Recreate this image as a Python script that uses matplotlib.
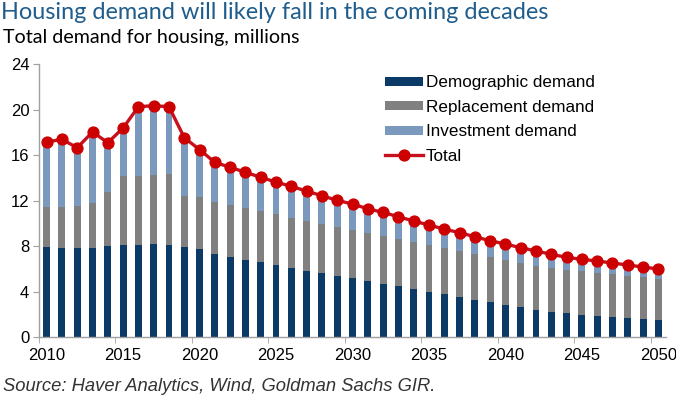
import numpy as np
import matplotlib
matplotlib.use('Agg')
import matplotlib.pyplot as plt
from matplotlib.ticker import MultipleLocator

# Data (millions of housing units)
years = list(range(2010, 2051))
demographic = [7.95, 7.81, 7.81, 7.87, 7.99, 8.08, 8.14, 8.22, 8.14, 7.96,
               7.76, 7.29, 7.08, 6.81, 6.58, 6.35, 6.11, 5.85, 5.65, 5.41,
               5.18, 4.94, 4.71, 4.50, 4.27, 4.00, 3.77, 3.54, 3.30, 3.10,
               2.84, 2.63, 2.43, 2.19, 2.11, 1.96, 1.87, 1.81, 1.69, 1.61, 1.49]
replacement = [3.50, 3.66, 3.75, 3.95, 4.74, 6.05, 6.05, 6.06, 6.20, 4.48,
               4.56, 4.56, 4.50, 4.51, 4.48, 4.45, 4.39, 4.39, 4.32, 4.27,
               4.27, 4.24, 4.21, 4.16, 4.12, 4.13, 4.10, 4.07, 4.04, 3.98,
               3.97, 3.92, 3.86, 3.89, 3.83, 3.86, 3.80, 3.75, 3.72, 3.68, 3.65]
investment = [5.70, 5.91, 5.09, 6.21, 4.36, 4.25, 6.06, 6.06, 5.91, 5.09,
              4.16, 3.51, 3.35, 3.17, 2.99, 2.83, 2.75, 2.60, 2.46, 2.35,
              2.25, 2.11, 2.05, 1.93, 1.82, 1.73, 1.63, 1.58, 1.49, 1.40,
              1.38, 1.32, 1.29, 1.21, 1.08, 1.03, 1.03, 0.96, 0.94, 0.88, 0.86]
total = [17.15, 17.38, 16.65, 18.03, 17.09, 18.38, 20.25, 20.34, 20.25, 17.53,
         16.48, 15.36, 14.93, 14.49, 14.05, 13.63, 13.25, 12.84, 12.43, 12.03,
         11.70, 11.29, 10.97, 10.59, 10.21, 9.86, 9.50, 9.19, 8.83, 8.48,
         8.19, 7.87, 7.58, 7.29, 7.02, 6.85, 6.70, 6.52, 6.35, 6.17, 6.00]

c_demo = '#0b3a66'
c_repl = '#808080'
c_inv = '#7b98bd'
c_total = '#c8101e'

fig = plt.figure(figsize=(6.76, 3.98), dpi=100)
ax = fig.add_axes([39 / 676, 1 - 337.3 / 398, (666 - 39) / 676, (337.3 - 64) / 398])

x = np.array(years)
demo = np.array(demographic)
repl = np.array(replacement)
inv = np.array(investment)
w = 0.45
b1 = ax.bar(x, demo, width=w, color=c_demo, label='Demographic demand')
b2 = ax.bar(x, repl, width=w, bottom=demo, color=c_repl, label='Replacement demand')
b3 = ax.bar(x, inv, width=w, bottom=demo + repl, color=c_inv, label='Investment demand')
ln, = ax.plot(x, total, color=c_total, lw=2.4, marker='o', ms=7.8,
              markerfacecolor='#cc0000', markeredgecolor='#cc0000', label='Total', zorder=5)

ax.set_xlim(2009.5, 2050.5)
ax.set_ylim(0, 24)
ax.yaxis.set_major_locator(MultipleLocator(4))
ax.set_xticks(range(2010, 2051, 5))
ax.set_xticks(np.arange(2009.5, 2050, 5), minor=True)
ax.tick_params(axis='x', which='major', length=0, pad=8)
ax.tick_params(axis='x', which='minor', length=4, color='#a0a0a0')
ax.tick_params(axis='y', length=4, color='#a0a0a0', pad=3)
for lab in ax.get_xticklabels() + ax.get_yticklabels():
    lab.set_fontfamily('Liberation Sans')
    lab.set_fontsize(12)

for s in ['top', 'right']:
    ax.spines[s].set_visible(False)
for s in ['left', 'bottom']:
    ax.spines[s].set_color('#a0a0a0')
    ax.spines[s].set_linewidth(1)

ax.legend(handles=[b1, b2, b3, ln], loc='upper left',
          bbox_to_anchor=(385 / 676, 1 - 75.5 / 398),
          bbox_transform=fig.transFigure, frameon=False, borderpad=0, borderaxespad=0,
          handlelength=2.2, handleheight=0.45, handletextpad=0.2, labelspacing=0.55,
          prop={'family': 'Liberation Sans', 'size': 12.3})

fig.text(0.002, 1 - 2 / 398, 'Housing demand will likely fall in the coming decades',
         fontsize=16.9, family='Lato', color='#1f5d8c', va='top', ha='left')
fig.text(0.004, 1 - 29 / 398, 'Total demand for housing, millions',
         fontsize=14.1, family='Lato', color='black', va='top', ha='left')
fig.text(0.004, 1 - 391 / 398, 'Source: Haver Analytics, Wind, Goldman Sachs GIR.',
         fontsize=13.2, family='Liberation Sans', style='italic', color='#333333',
         va='baseline', ha='left')

fig.savefig('out.png', dpi=100)
